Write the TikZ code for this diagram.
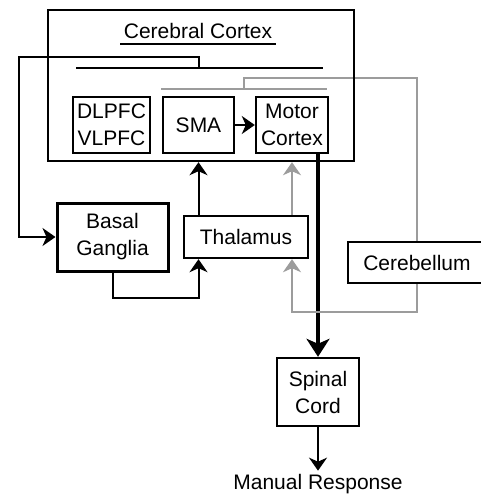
\documentclass[tikz,border=0pt]{standalone}
\usepackage{fontspec}
\setmainfont{Liberation Sans}
\usetikzlibrary{arrows.meta,calc}
\definecolor{lgray}{HTML}{9C9C9C}
\begin{document}
\begin{tikzpicture}[x=1pt,y=-1pt,
  font=\fontsize{21}{27}\selectfont,
  box/.style={draw=black,line width=2.4pt,rectangle,inner sep=0pt,align=center,fill=white},
  conn/.style={line width=2pt,black},
  gconn/.style={line width=2pt,lgray},
  tip/.style={-{Stealth[length=13pt,width=18pt,inset=4pt]}},
  bigtip/.style={-{Stealth[length=18pt,width=23pt,inset=5pt]}}
]
\useasboundingbox (0,0) rectangle (481,495);
\begin{scope}
\clip (0,0) rectangle (481,495);
% gray feedback from cerebellum to cortex (under the cortex box border)
\coordinate (gbarL) at (161,89);
\coordinate (gbarR) at (327,89);
\coordinate (gbarM) at (244,89);
\node[box,minimum width=138pt,minimum height=41pt] (cereb) at (417,262.5) {Cerebellum};
\draw[gconn] (gbarL) -- (gbarR);
\draw[gconn] (gbarM) -- (244,78) -| (cereb.north);
% cortex box
\node[draw=black,line width=2.4pt,minimum width=306pt,minimum height=151pt,inner sep=0pt] (cortex) at (201,85.5) {};
\node (title) at (198,31) {Cerebral Cortex};
\draw[line width=2pt] ($(title.base west)+(0,5)$) -- ($(title.base east)+(0,5)$);
% black bar to basal ganglia
\coordinate (barL) at (76,68);
\coordinate (barR) at (323,68);
\coordinate (barM) at (199,68);
\draw[conn] (barL) -- (barR);
% inner boxes
\node[box,minimum width=77pt,minimum height=56pt] (dl) at (111.5,125) {DLPFC\\VLPFC};
\node[box,minimum width=71pt,minimum height=56pt] (sma) at (198.5,125) {SMA};
\node[box,minimum width=72pt,minimum height=56pt] (motor) at (292,125) {Motor\\Cortex};
\node[box,line width=3pt,minimum width=111pt,minimum height=68pt] (basal) at (112.5,237) {Basal\\Ganglia};
\node[box,minimum width=124pt,minimum height=42pt] (thal) at (246,237) {Thalamus};
\node[box,minimum width=82pt,minimum height=68pt] (spinal) at (318,392) {Spinal\\Cord};
\node (resp) at (318,484) {Manual Response};
% connectors
\draw[conn,tip] (barM) -- (199,57) -- (19,57) |- (basal.west);
\draw[conn,tip] (sma.east) -- (motor.west);
\draw[conn,tip] (thal.north -| sma.south) -- (cortex.south -| sma.south);
\draw[gconn,tip] (thal.north -| motor.south) -- (cortex.south -| motor.south);
\draw[line width=4pt,bigtip] (motor.south -| spinal.north) -- (spinal.north);
\draw[conn,tip] (basal.south) -- ++(0,25) -| (thal.south -| sma.south);
\draw[gconn,tip] (cereb.south) -- ++(0,28) -| (thal.south -| motor.south);
\draw[conn,tip] (spinal.south) -- (resp.north);
\end{scope}
\end{tikzpicture}
\end{document}
